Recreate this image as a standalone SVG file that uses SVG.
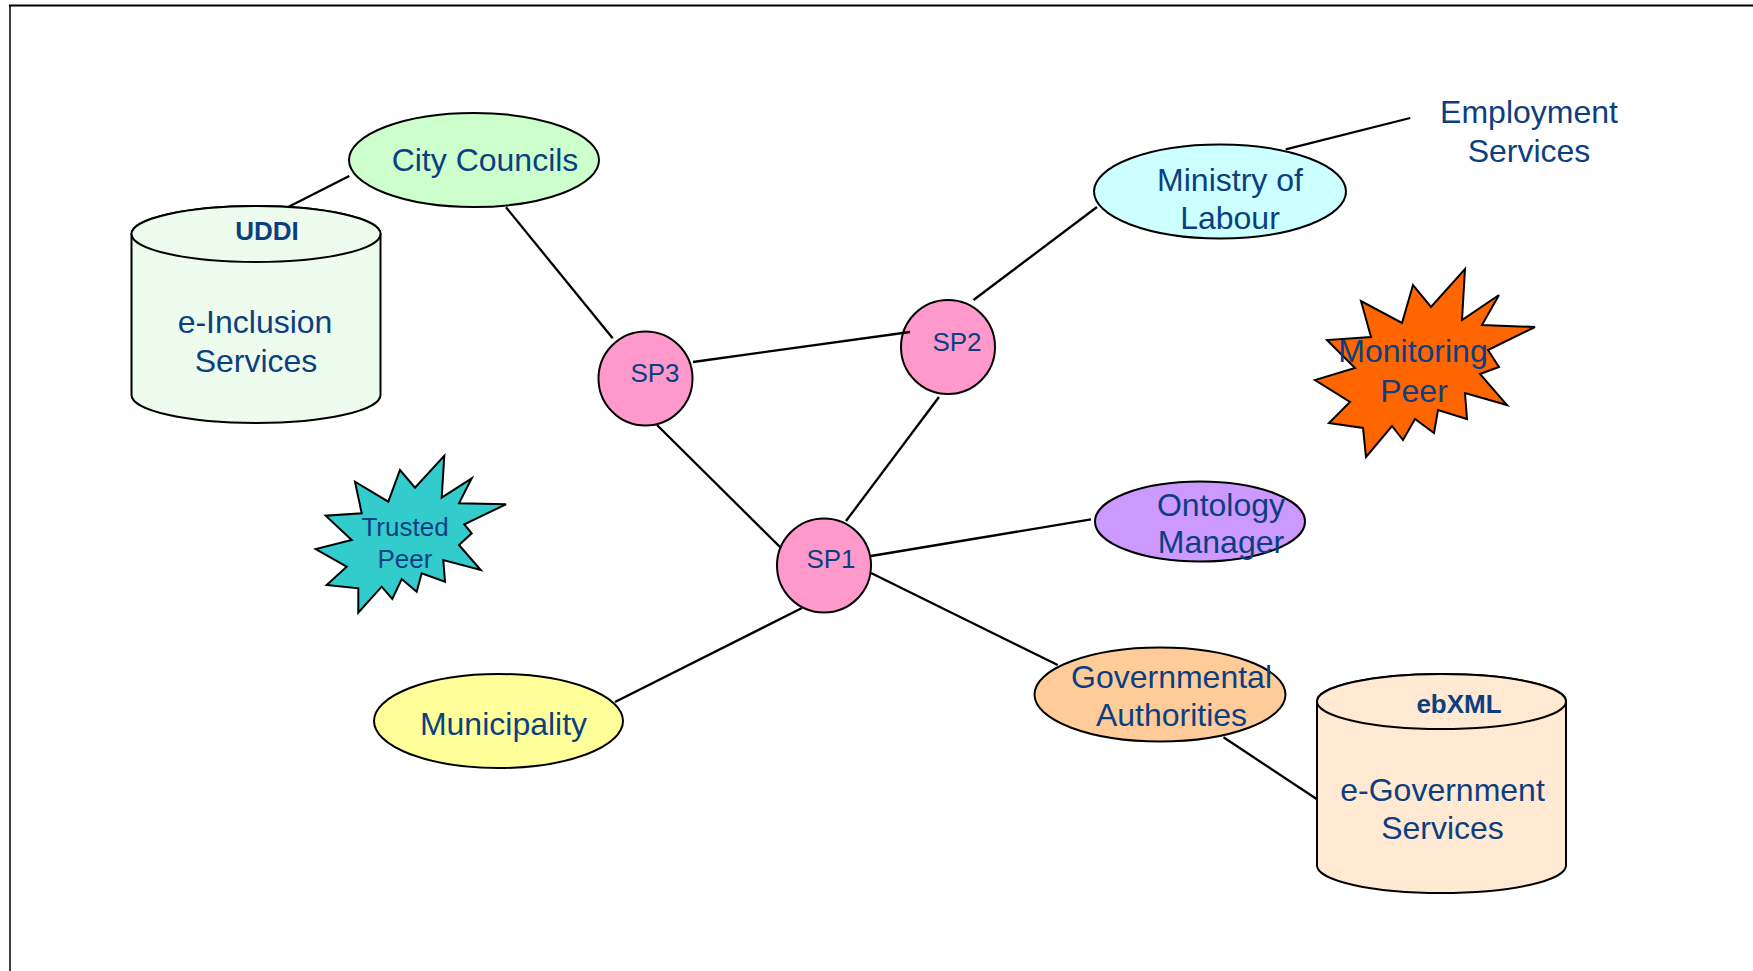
<svg xmlns="http://www.w3.org/2000/svg" width="1753" height="971" viewBox="0 0 1753 971">
<style>
.shape{stroke:#000;stroke-width:2}
.lbl{font-family:"Liberation Sans",Arial,sans-serif;font-size:32px;fill:#0D3F80;text-anchor:middle}
.sp{font-size:26px}
.small{font-size:26px}
.bold{font-weight:bold;font-size:26px}
.conn line{stroke:#000;stroke-width:2.3;fill:none}
</style>
<defs>
<pattern id="patG" width="4" height="4" patternUnits="userSpaceOnUse">
<rect width="4" height="4" fill="#F0FCEF"/>
<rect x="0" y="0" width="1" height="1" fill="#E2F2E2"/>
<rect x="2" y="2" width="1" height="1" fill="#E2F2E2"/>
</pattern>
<pattern id="patO" width="4" height="4" patternUnits="userSpaceOnUse">
<rect width="4" height="4" fill="#FEEBD8"/>
<rect x="0" y="0" width="1" height="1" fill="#FADFC6"/>
<rect x="2" y="2" width="1" height="1" fill="#FADFC6"/>
</pattern>
</defs>
<rect width="1753" height="971" fill="#fff"/>
<path d="M10,971 V5.5" stroke="#000" stroke-width="1.5" fill="none"/>
<path d="M9,5.5 H1753" stroke="#000" stroke-width="2.2" fill="none"/>

<g id="uddi">
<path class="shape" fill="url(#patG)" d="M131.5,234 V395 A124.5,28 0 0 0 380.5,395 V234 A124.5,28 0 0 0 131.5,234 Z"/>
<ellipse class="shape" fill="url(#patG)" cx="256" cy="234" rx="124.5" ry="28"/>
<text class="lbl bold" x="267" y="240">UDDI</text>
<text class="lbl" x="255" y="333">e-Inclusion</text>
<text class="lbl" x="256" y="371.5">Services</text>
</g>

<g id="city-councils">
<ellipse class="shape" fill="#CCFFCC" cx="474" cy="160" rx="125" ry="47"/>
<text class="lbl" x="485" y="171">City Councils</text>
</g>

<g id="ministry">
<ellipse class="shape" fill="#CCFFFF" cx="1220" cy="191.5" rx="126" ry="47"/>
<text class="lbl" x="1230" y="191">Ministry of</text>
<text class="lbl" x="1230" y="228.5">Labour</text>
</g>

<g id="employment">
<text class="lbl" x="1529" y="123">Employment</text>
<text class="lbl" x="1529" y="161.5">Services</text>
</g>

<g id="monitoring-peer">
<polygon class="shape" fill="#FF6600" points="1465,269 1462,320 1499,295 1482,325 1535,327 1488,350 1499,367 1480,374 1507,405 1465,393 1467,419 1438,410 1434,433 1415,419 1403,440 1392,426 1366,457 1363,428 1329,423 1350,402 1315,380 1355,368 1327,340 1371,337 1361,301 1402,323 1413,285 1431,307"/>
<text class="lbl" x="1413" y="362">Monitoring</text>
<text class="lbl" x="1414" y="402">Peer</text>
</g>

<g id="trusted-peer">
<polygon class="shape" fill="#33CCCC" points="444.3,455.7 441.7,497.7 471.7,478.3 459,503.3 506,504.3 464.3,524.3 471.7,533.3 459,545 480.7,570 443.3,560 445,581.7 421.7,573.3 416.7,591.7 401.7,579 392.3,599 381.7,586.7 358.3,612.7 358.3,588.3 326.7,585 346.7,566.7 315.7,549 351.7,540 325.7,515.7 361.7,513.3 355,481.7 388.3,501.7 400,470 415,487.7"/>
<text class="lbl small" x="405" y="535.5">Trusted</text>
<text class="lbl small" x="405" y="567.5">Peer</text>
</g>

<g id="sp3">
<circle class="shape" fill="#FF99CC" cx="645.5" cy="378.5" r="47"/>
<text class="lbl sp" x="655" y="382">SP3</text>
</g>
<g id="sp2">
<circle class="shape" fill="#FF99CC" cx="948" cy="347" r="47"/>
<text class="lbl sp" x="957" y="351">SP2</text>
</g>
<g id="sp1">
<circle class="shape" fill="#FF99CC" cx="824" cy="565.5" r="47"/>
<text class="lbl sp" x="831" y="568">SP1</text>
</g>

<g id="ontology">
<ellipse class="shape" fill="#CC99FF" cx="1200" cy="521.5" rx="105" ry="40"/>
<text class="lbl" x="1221" y="516">Ontology</text>
<text class="lbl" x="1221" y="553">Manager</text>
</g>

<g id="governmental">
<ellipse class="shape" fill="#FFCC99" cx="1160" cy="694.5" rx="125.5" ry="47"/>
<text class="lbl" x="1171.5" y="688">Governmental</text>
<text class="lbl" x="1171.5" y="726">Authorities</text>
</g>

<g id="ebxml">
<path class="shape" fill="url(#patO)" d="M1317,701.5 V865.5 A124.5,27.5 0 0 0 1566,865.5 V701.5 A124.5,27.5 0 0 0 1317,701.5 Z"/>
<ellipse class="shape" fill="url(#patO)" cx="1441.5" cy="701.5" rx="124.5" ry="27.5"/>
<text class="lbl bold" x="1459" y="712.5">ebXML</text>
<text class="lbl" x="1442.5" y="800.5">e-Government</text>
<text class="lbl" x="1442.5" y="839">Services</text>
</g>

<g id="municipality">
<ellipse class="shape" fill="#FFFF99" cx="498.5" cy="721" rx="124.5" ry="47"/>
<text class="lbl" x="503.5" y="735">Municipality</text>
</g>

<g id="connectors" class="conn">
<line x1="287.7" y1="207.3" x2="349.3" y2="176"/>
<line x1="506" y1="207.3" x2="612.7" y2="338.3"/>
<line x1="693" y1="362" x2="910" y2="332"/>
<line x1="657" y1="425" x2="781" y2="548"/>
<line x1="939" y1="397" x2="846" y2="521"/>
<line x1="973.5" y1="300" x2="1097" y2="207"/>
<line x1="1285.7" y1="149.3" x2="1410.2" y2="118"/>
<line x1="871" y1="556" x2="1091" y2="519.3"/>
<line x1="871" y1="573" x2="1057.7" y2="665"/>
<line x1="802" y1="608" x2="615" y2="702"/>
<line x1="1223.5" y1="737.3" x2="1317" y2="799.3"/>
</g>
</svg>
